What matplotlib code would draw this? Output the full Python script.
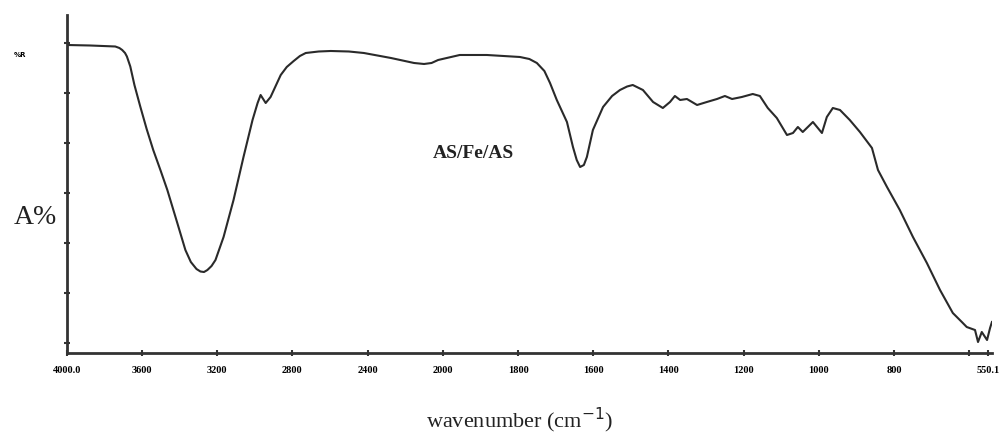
import matplotlib.pyplot as plt
import numpy as np

# IR spectrum of AS/Fe/AS
wavenumber = [4000, 3876, 3742, 3720, 3705, 3690, 3680, 3662, 3640, 3609,
              3575, 3540, 3500, 3465, 3412, 3369, 3340, 3310, 3289, 3270,
              3252, 3230, 3209, 3166, 3113, 3060, 3012, 2985, 2969, 2942,
              2916, 2862, 2830, 2793, 2760, 2729, 2660, 2596, 2500, 2420,
              2276, 2153, 2100, 2060, 2025, 1955, 1883, 1795, 1770, 1750,
              1730, 1715, 1697, 1670, 1654, 1644, 1635, 1625, 1617, 1601,
              1574, 1550, 1529, 1510, 1495, 1468, 1441, 1415, 1396, 1383,
              1369, 1351, 1324, 1298, 1271, 1250, 1231, 1205, 1176, 1157,
              1136, 1112, 1085, 1069, 1056, 1043, 1016, 992, 979, 963,
              944, 918, 891, 859, 843, 819, 785, 750, 713, 678,
              644, 620, 607, 585, 577, 567, 553, 545, 540]
absorb = [59.6, 59.5, 59.3, 59.0, 58.6, 58.0, 57.3, 55.3, 51.6, 47.3,
          42.8, 38.6, 34.4, 30.6, 24.0, 18.6, 16.2, 14.8, 14.3, 14.2,
          14.6, 15.4, 16.6, 21.2, 28.6, 37.2, 44.6, 48.0, 49.6, 48.0,
          49.2, 53.6, 55.2, 56.4, 57.4, 58.0, 58.3, 58.4, 58.3, 58.0,
          57.0, 56.0, 55.8, 56.0, 56.6, 57.6, 57.6, 57.2, 56.8, 56.0,
          54.4, 52.0, 48.6, 44.2, 39.2, 36.6, 35.2, 35.6, 37.2, 42.6,
          47.2, 49.4, 50.6, 51.3, 51.6, 50.6, 48.2, 47.0, 48.2, 49.4,
          48.6, 48.8, 47.6, 48.2, 48.8, 49.4, 48.8, 49.2, 49.8, 49.4,
          47.0, 45.0, 41.6, 42.0, 43.2, 42.2, 44.2, 42.0, 45.2, 47.0,
          46.6, 44.6, 42.2, 39.0, 34.6, 31.2, 26.6, 21.2, 16.0, 10.6,
          6.0, 4.2, 3.2, 2.6, 0.2, 2.2, 0.6, 3.0, 4.2]

xticks = [4000, 3600, 3200, 2800, 2400, 2000, 1800, 1600, 1400, 1200, 1000, 800, 600, 550]
xticklabels = ['4000.0', '3600', '3200', '2800', '2400', '2000', '1800', '1600',
               '1400', '1200', '1000', '800', '', '550.1']


# 2000 以下刻度放大一倍 (仪器常用的分段坐标)
def forward(w):
    w = np.asarray(w, dtype=float)
    return np.where(w > 2000, 2000 + (w - 2000) / 2, w)


def inverse(t):
    t = np.asarray(t, dtype=float)
    return np.where(t > 2000, 2000 + (t - 2000) * 2, t)


fig = plt.figure(figsize=(10.05, 4.37), dpi=100)
ax = fig.add_axes([0.0664, 0.1922, 0.9206, 0.7735])

ax.plot(wavenumber, absorb, color='#2a2a2a', lw=1.5, solid_joinstyle='round')

ax.set_xscale('function', functions=(forward, inverse))
ax.set_xlim(4000, 540)
ax.set_ylim(-2, 65.6)
ax.set_xticks(xticks)
ax.set_xticklabels(xticklabels, family='Liberation Serif', fontweight='bold', fontsize=7.5)
ax.set_yticks(np.arange(0, 61, 10))
ax.set_yticklabels([])
ax.tick_params(direction='inout', length=4, width=1.5, color='#333333', pad=7)

for s in ['top', 'right']:
    ax.spines[s].set_visible(False)
for s in ['left', 'bottom']:
    ax.spines[s].set_linewidth(2)
    ax.spines[s].set_color('#333333')

fig.text(0.02, 1 - 55 / 437, '%R', fontsize=5, fontweight='bold', ha='center', va='center')
fig.text(35 / 1005, 1 - 217 / 437, 'A%', family='Liberation Serif', fontsize=20,
         ha='center', va='center', color='#222222')
fig.text(520 / 1005, 1 - 420 / 437, 'wavenumber (cm$^{-1}$)', family='Liberation Serif',
         fontsize=16, ha='center', va='center', color='#222222')
fig.text(473 / 1005, 1 - 153 / 437, 'AS/Fe/AS', family='Liberation Serif', fontsize=14,
         fontweight='bold', ha='center', va='center', color='#222222')

plt.savefig('out.png', dpi=100)
